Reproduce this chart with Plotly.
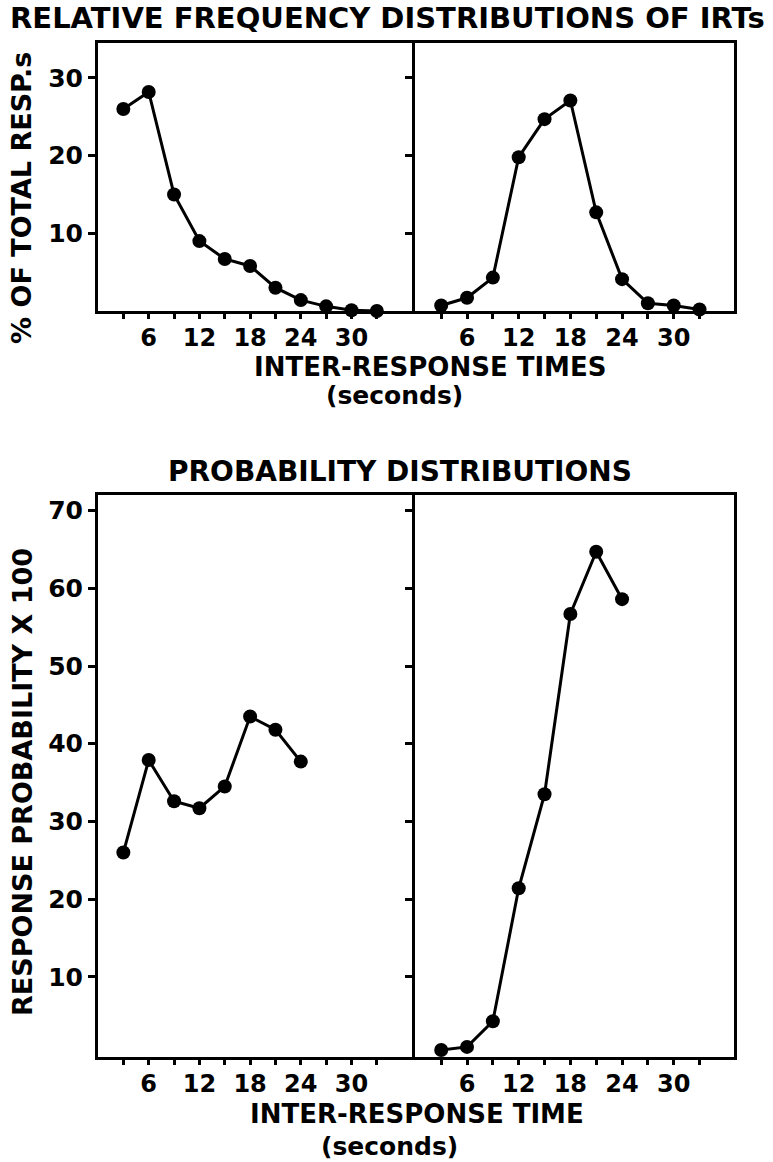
import plotly.graph_objects as go

# ---- data ----
irt_top = [3, 6, 9, 12, 15, 18, 21, 24, 27, 30, 33]
freq_left = [26.0, 28.2, 15.0, 9.0, 6.7, 5.8, 3.0, 1.4, 0.6, 0.1, 0.0]
freq_right = [0.7, 1.7, 4.3, 19.8, 24.7, 27.1, 12.7, 4.1, 1.0, 0.7, 0.2]

irt_bottom = [3, 6, 9, 12, 15, 18, 21, 24]
prob_left = [26.0, 37.9, 32.6, 31.7, 34.5, 43.5, 41.8, 37.7]
prob_right = [0.6, 1.0, 4.3, 21.4, 33.5, 56.7, 64.7, 58.6]

x_tickvals = [3, 6, 9, 12, 15, 18, 21, 24, 27, 30, 33]
x_ticktext = ["", "6", "", "12", "", "18", "", "24", "", "30", ""]
top_yticks = [10, 20, 30]
bottom_yticks = [10, 20, 30, 40, 50, 60, 70]

FONT = "DejaVu Sans"
W, H = 773, 1162

fig = go.Figure()

def add_series(x, y, xa, ya):
    fig.add_trace(go.Scatter(
        x=x, y=y, xaxis=xa, yaxis=ya, mode="lines+markers",
        line=dict(color="black", width=3),
        marker=dict(color="black", size=14),
        cliponaxis=False, showlegend=False, hoverinfo="skip"))

add_series(irt_top, freq_left, "x", "y")
add_series(irt_top, freq_right, "x2", "y2")
add_series(irt_bottom, prob_left, "x3", "y3")
add_series(irt_bottom, prob_right, "x4", "y4")

xl = [98 / W, 411.5 / W]
xr = [414.5 / W, 734 / W]
ytop = [1 - 311 / H, 1 - 43 / H]
ybot = [1 - 1057 / H, 1 - 495 / H]

def xaxis(domain, rng, anchor):
    return dict(domain=domain, range=rng, anchor=anchor,
                showline=True, linecolor="black", linewidth=3, mirror=True,
                showgrid=False, zeroline=False,
                tickmode="array", tickvals=x_tickvals, ticktext=x_ticktext,
                ticks="outside", ticklen=5, tickwidth=2.5, tickcolor="black",
                ticklabelstandoff=-2,
                tickfont=dict(family=FONT, size=24, color="black", weight="bold"))

def yaxis(domain, rng, anchor, tickvals, labels):
    return dict(domain=domain, range=rng, anchor=anchor,
                showline=True, linecolor="black", linewidth=3, mirror=True,
                showgrid=False, zeroline=False,
                tickmode="array", tickvals=tickvals,
                showticklabels=labels,
                ticks="outside", ticklen=7, tickwidth=3, tickcolor="black",
                tickfont=dict(family=FONT, size=25, color="black", weight="bold"))

fig.update_layout(
    width=W, height=H,
    margin=dict(l=0, r=0, t=0, b=0),
    paper_bgcolor="white", plot_bgcolor="white",
    xaxis=xaxis(xl, [0, 37.1], "y"),
    yaxis=yaxis(ytop, [0, 34.5], "x", top_yticks, True),
    xaxis2=xaxis(xr, [-0.1, 37.0], "y2"),
    yaxis2=yaxis(ytop, [0, 34.5], "x2", top_yticks, False),
    xaxis3=xaxis(xl, [0, 37.1], "y3"),
    yaxis3=yaxis(ybot, [-0.3, 72.0], "x3", bottom_yticks, True),
    xaxis4=xaxis(xr, [-0.1, 37.0], "y4"),
    yaxis4=yaxis(ybot, [-0.3, 72.0], "x4", bottom_yticks, False),
)

def ann(text, x, y, size, angle=0):
    fig.add_annotation(text=text, x=x / W, y=1 - y / H, xref="paper", yref="paper",
                       showarrow=False, textangle=angle,
                       font=dict(family=FONT, size=size, color="black", weight="bold"),
                       xanchor="center", yanchor="middle")

ann("RELATIVE FREQUENCY DISTRIBUTIONS OF IRTs", 387, 18, 29)
ann("% OF TOTAL RESP.s", 22, 198, 27, -90)
ann("INTER-RESPONSE TIMES", 430, 367, 26)
ann("(seconds)", 394, 396, 25)

ann("PROBABILITY DISTRIBUTIONS", 400, 471, 28)
ann("RESPONSE PROBABILITY X 100", 22, 782, 27, -90)
ann("INTER-RESPONSE TIME", 417, 1114, 26)
ann("(seconds)", 390, 1146, 25)

fig.write_html("out.html")
